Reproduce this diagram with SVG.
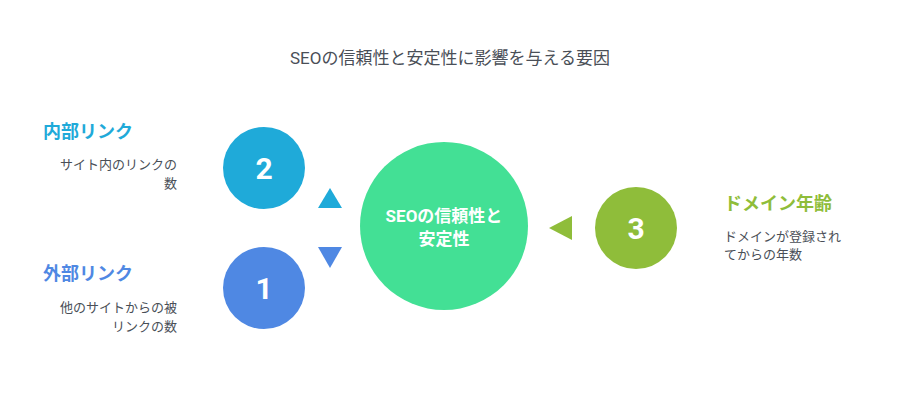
<svg xmlns="http://www.w3.org/2000/svg" width="900" height="420" viewBox="0 0 900 420">
<style>
text{font-family:Roboto,"Noto Sans CJK JP",sans-serif}
.t{font-size:18px;font-weight:bold}
.d{font-size:13px;fill:#4a4f57}
.n{font-size:30px;font-weight:bold;fill:#fff;text-anchor:middle}
</style>
<rect width="900" height="420" fill="#fff"/>
<text x="450" y="64" text-anchor="middle" font-size="17" fill="#4a4f57">SEOの信頼性と安定性に影響を与える要因</text>
<g id="center"><circle cx="444" cy="226" r="84" fill="#43e095"/>
<text x="444" y="222" text-anchor="middle" font-size="17" font-weight="bold" fill="#fff">SEOの信頼性と</text>
<text x="444" y="245" text-anchor="middle" font-size="17" font-weight="bold" fill="#fff">安定性</text></g>
<g id="connectors">
<polygon points="318,208 342,208 330,188" fill="#1faad9"/>
<polygon points="318,247 342,247 330,268" fill="#4f88e3"/>
<polygon points="549,228 572,216 572,240" fill="#8fbd3a"/>
</g>
<g id="n2"><circle cx="264" cy="168" r="41" fill="#1faad9"/><text class="n" x="264" y="179">2</text>
<text class="t" x="43" y="138" fill="#1faad9">内部リンク</text>
<text class="d" x="177" y="169" text-anchor="end">サイト内のリンクの</text>
<text class="d" x="177" y="188" text-anchor="end">数</text></g>
<g id="n1"><circle cx="264" cy="288" r="41" fill="#4f88e3"/><text class="n" x="264" y="299">1</text>
<text class="t" x="43" y="280" fill="#4f88e3">外部リンク</text>
<text class="d" x="177" y="312" text-anchor="end">他のサイトからの被</text>
<text class="d" x="177" y="331" text-anchor="end">リンクの数</text></g>
<g id="n3"><circle cx="636" cy="228" r="41" fill="#8fbd3a"/><text class="n" x="636" y="239">3</text>
<text class="t" x="724" y="210" fill="#8fbd3a">ドメイン年齢</text>
<text class="d" x="724" y="241">ドメインが登録され</text>
<text class="d" x="724" y="259">てからの年数</text></g>
</svg>
